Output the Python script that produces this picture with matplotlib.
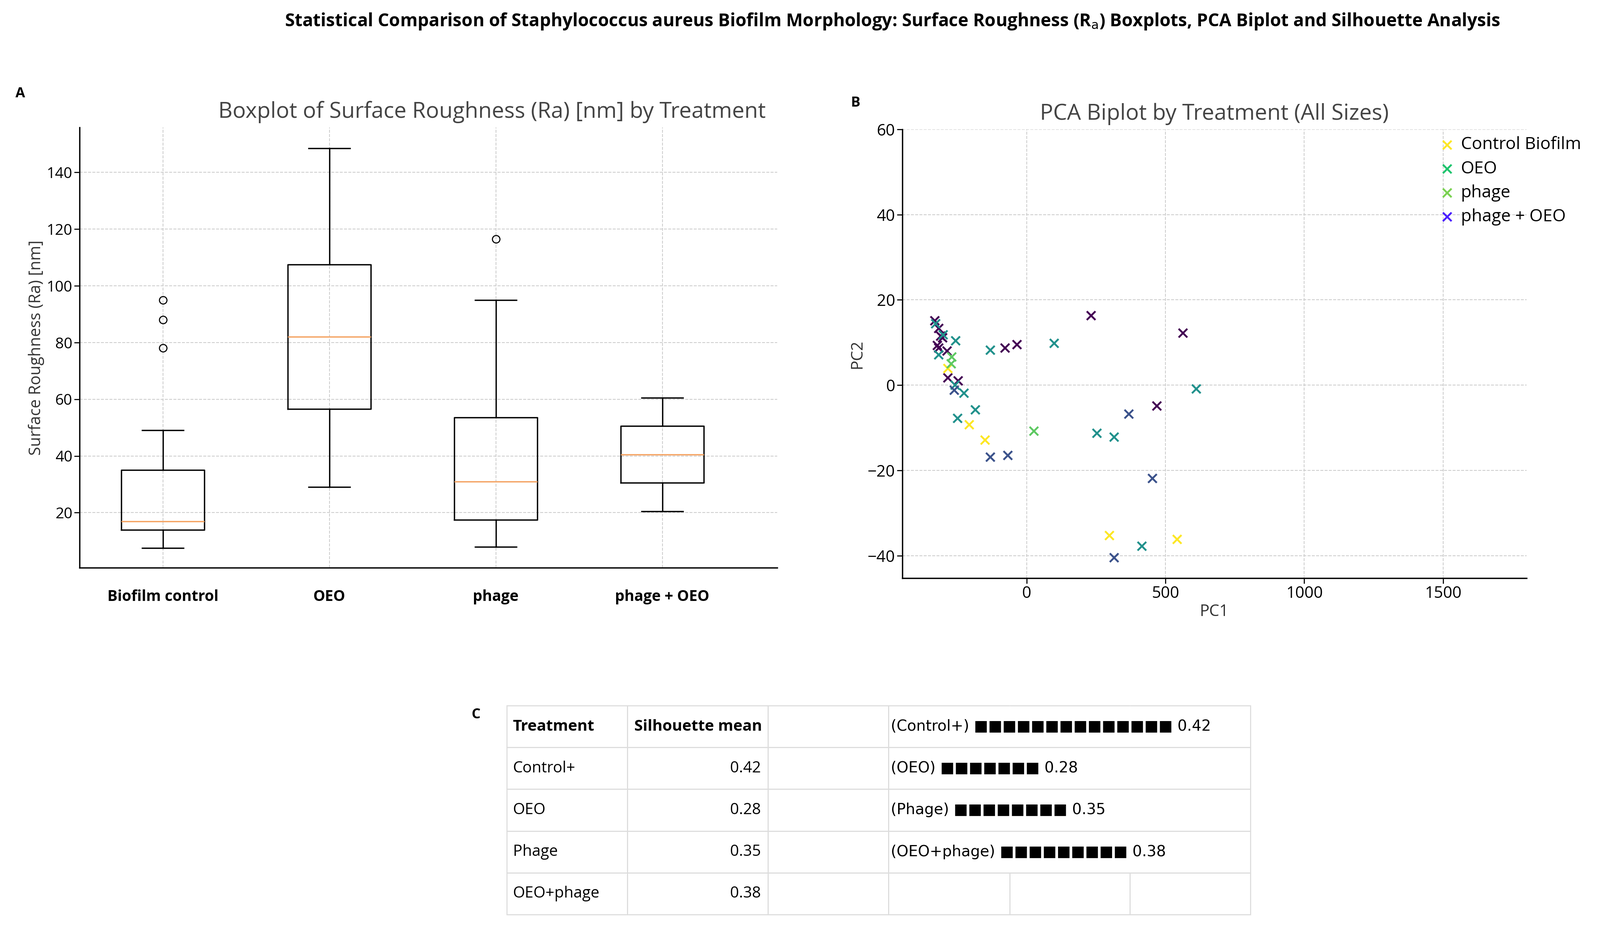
import matplotlib.pyplot as plt
import numpy as np

plt.rcParams['font.family'] = 'Open Sans'

# Boxplot data
treatments = ['Biofilm control', 'OEO', 'phage', 'phage + OEO']
whislo = [7.5, 29, 8, 20.5]
q1 = [14, 56.5, 17.5, 30.5]
med = [17, 82, 31, 40.5]
q3 = [35, 107.5, 53.5, 50.5]
whishi = [49, 148.5, 95, 60.5]
fliers = [[78, 88, 95], [], [116.5], []]

# PCA scores
pc1 = [-331, -317, -310, -322, -317, -287, -303, -284, -247, -78, -35, 232, 563, 469,
       -328, -317, -301, -256, -131, 99, -258, -226, -185, -249, 253, 315, 611, 415,
       -261, -131, -68, 368, 453, 315,
       -284, -207, -150, 298, 542,
       -270, -272, 26]
pc2 = [15.1, 13.3, 11.5, 9.3, 8.7, 8.0, 11.1, 1.7, 1.0, 8.7, 9.5, 16.3, 12.2, -4.9,
       14.4, 7.1, 11.8, 10.4, 8.2, 9.8, 0.0, -1.9, -5.8, -7.8, -11.3, -12.2, -0.9, -37.8,
       -1.2, -16.9, -16.5, -6.8, -21.9, -40.5,
       3.9, -9.3, -12.9, -35.3, -36.2,
       6.6, 5.0, -10.8]
groups = [0] * 14 + [1] * 14 + [2] * 6 + [3] * 5 + [4] * 3
group_colors = ['#440154', '#21918c', '#3b528b', '#fde725', '#5ec962']
legend_labels = ['Control Biofilm', 'OEO', 'phage', 'phage + OEO']
legend_colors = ['#fde725', '#1fc46e', '#7ad151', '#4a1fff']

# Silhouette table
sil_names = ['Control+', 'OEO', 'Phage', 'OEO+phage']
sil_means = [0.42, 0.28, 0.35, 0.38]
bar_counts = [14, 7, 8, 9]

fig = plt.figure(figsize=(41.42, 24.08), dpi=100)
fig.text(0.178, 0.977, 'Statistical Comparison of Staphylococcus aureus Biofilm Morphology: '
         'Surface Roughness (R$_\\mathrm{a}$) Boxplots, PCA Biplot and Silhouette Analysis',
         ha='left', va='center', fontsize=33, fontweight='bold')

# A: boxplot
ax1 = fig.add_axes([206 / 4142, 1 - 1470 / 2408, 1806 / 4142, 1140 / 2408])
stats = [dict(label=t, whislo=a, q1=b, med=c, q3=d, whishi=e, fliers=f)
         for t, a, b, c, d, e, f in zip(treatments, whislo, q1, med, q3, whishi, fliers)]
ax1.bxp(stats, widths=0.5,
        boxprops=dict(linewidth=2.5), whiskerprops=dict(linewidth=2.5),
        capprops=dict(linewidth=2.5), medianprops=dict(color='#f4a261', linewidth=2.5),
        flierprops=dict(marker='o', markersize=14, markerfacecolor='none', markeredgewidth=2))
ax1.set_xlim(0.5, 4.69)
ax1.set_ylim(0.6, 155.8)
ax1.set_title('Boxplot of Surface Roughness (Ra) [nm] by Treatment  ', fontsize=41,
              color='#444444', loc='right', pad=18)
ax1.set_ylabel('Surface Roughness (Ra) [nm]', fontsize=30, color='#333333')
ax1.grid(True, linestyle='--', color='#cccccc', linewidth=1.5)
ax1.set_axisbelow(True)
ax1.tick_params(axis='y', labelsize=28, length=10, width=2)
ax1.tick_params(axis='x', labelsize=28, length=0, pad=40)
for lab in ax1.get_xticklabels():
    lab.set_fontweight('bold')
for s in ['top', 'right']:
    ax1.spines[s].set_visible(False)
for s in ['left', 'bottom']:
    ax1.spines[s].set_linewidth(2.5)

# B: PCA
ax2 = fig.add_axes([2336 / 4142, 1 - 1497 / 2408, 1616 / 4142, 1162 / 2408])
ax2.scatter(pc1, pc2, c=[group_colors[g] for g in groups], marker='x', s=260, linewidths=3.5)
for lab, col in zip(legend_labels, legend_colors):
    ax2.scatter([], [], c=col, marker='x', s=260, linewidths=3.5, label=lab)
ax2.legend(loc='upper left', bbox_to_anchor=(0.845, 1.0), frameon=False, fontsize=32,
           handletextpad=0.2, borderaxespad=0, labelspacing=0.4, handlelength=1.2)
ax2.set_xlim(-448, 1801)
ax2.set_ylim(-45.3, 60)
ax2.set_xticks([0, 500, 1000, 1500])
ax2.set_yticks([-40, -20, 0, 20, 40, 60])
ax2.set_title('PCA Biplot by Treatment (All Sizes)', fontsize=41, color='#444444', pad=18)
ax2.set_xlabel('PC1', fontsize=30, color='#333333')
ax2.set_ylabel('PC2', fontsize=30, color='#333333')
ax2.grid(True, linestyle='--', color='#cccccc', linewidth=1.5)
ax2.set_axisbelow(True)
ax2.tick_params(labelsize=30, length=10, width=2)
for s in ['top', 'right']:
    ax2.spines[s].set_visible(False)
for s in ['left', 'bottom']:
    ax2.spines[s].set_linewidth(2.5)

# C: table
ax3 = fig.add_axes([1312 / 4142, 1 - 2368 / 2408, 1925 / 4142, 541 / 2408])
ax3.axis('off')
bar_texts = ['(%s) %s %.2f' % (n, '\u25A0' * k, v) for n, k, v in
             zip(['Control+', 'OEO', 'Phage', 'OEO+phage'], bar_counts, sil_means)]
rows = [['Treatment', 'Silhouette mean', '', bar_texts[0], '', '']]
for i in range(4):
    rows.append([sil_names[i], '%.2f' % sil_means[i], '',
                 bar_texts[i + 1] if i < 3 else '', '', ''])
col_w = [118, 138, 118, 119, 118, 118]
col_w = [w / sum(col_w) for w in col_w]
tbl = ax3.table(cellText=rows, colWidths=col_w, bbox=[0, 0, 1, 1], cellLoc='left')
tbl.auto_set_font_size(False)
for (r, c), cell in tbl.get_celld().items():
    cell.set_edgecolor('#dddddd')
    cell.set_facecolor('none')
    cell.set_linewidth(2)
    cell.set_fontsize(29)
    cell.PAD = 0.05
    cell.get_text().set_clip_on(False)
    if c == 1 and r > 0:
        cell.get_text().set_ha('right')
        cell._loc = 'right'
    if r == 0 and c < 2:
        cell.get_text().set_fontweight('bold')
    if r < 4 and c >= 3:
        cell.visible_edges = {3: 'TBL', 4: 'TB', 5: 'TBR'}[c]
    if c == 3:
        cell.PAD = 0.02
        cell.get_text().set_fontfamily('DejaVu Sans')
        cell.get_text().set_fontsize(28)
        cell.get_text().set_zorder(10)

fig.text(15 / 1568, 1 - 92 / 912, 'A', fontsize=26, fontweight='bold', va='center')
fig.text(834 / 1568, 1 - 101 / 912, 'B', fontsize=26, fontweight='bold', va='center')
fig.text(462 / 1568, 1 - 701 / 912, 'C', fontsize=26, fontweight='bold', va='center')

fig.savefig('out.png', dpi=100)
